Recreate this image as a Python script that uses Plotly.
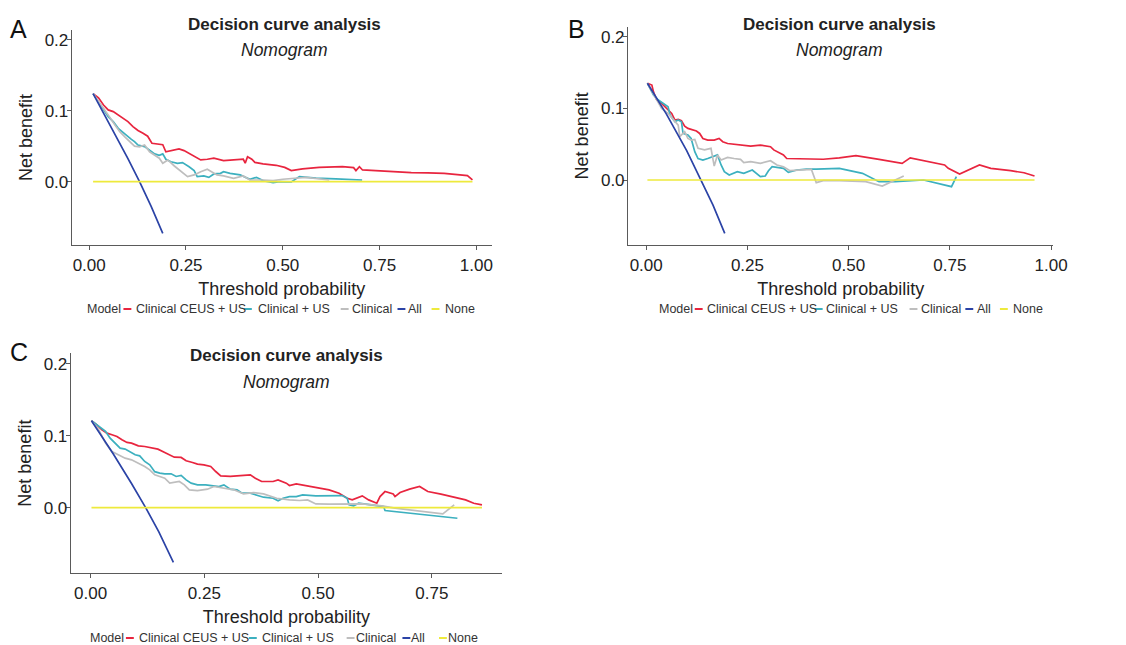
import plotly.graph_objects as go

# ---------------- data ----------------
series_names = ["Clinical CEUS + US", "Clinical + US", "Clinical", "All", "None"]
series_colors = ["#E8253F", "#3CB0BF", "#BEBEBE", "#2B43A6", "#EEEA3C"]

# Panel A
A_red_x = [0.01, 0.024, 0.037, 0.049, 0.062, 0.075, 0.088, 0.100, 0.113, 0.126, 0.139, 0.151, 0.162, 0.177,
           0.190, 0.198, 0.211, 0.232, 0.245, 0.258, 0.275, 0.288, 0.305, 0.322, 0.347, 0.381, 0.398, 0.403,
           0.409, 0.420, 0.428, 0.449, 0.483, 0.505, 0.522, 0.551, 0.594, 0.654, 0.683, 0.689, 0.698, 0.706,
           0.747, 0.790, 0.832, 0.875, 0.917, 0.951, 0.977, 0.99]
A_red_y = [0.124, 0.118, 0.108, 0.101, 0.0986, 0.094, 0.089, 0.0845, 0.0775, 0.072, 0.068, 0.064, 0.054, 0.053,
           0.052, 0.042, 0.0437, 0.046, 0.0437, 0.040, 0.035, 0.0305, 0.0315, 0.033, 0.0296, 0.0305, 0.0315, 0.026,
           0.035, 0.0315, 0.027, 0.025, 0.023, 0.020, 0.0155, 0.018, 0.020, 0.021, 0.0197, 0.0155, 0.021, 0.0164,
           0.015, 0.0136, 0.0127, 0.0122, 0.0117, 0.0099, 0.0085, 0.0023]
A_teal_x = [0.01, 0.032, 0.049, 0.062, 0.075, 0.088, 0.100, 0.109, 0.117, 0.126, 0.143, 0.156, 0.169, 0.181,
            0.190, 0.198, 0.211, 0.228, 0.241, 0.258, 0.271, 0.279, 0.296, 0.309, 0.322, 0.339, 0.347, 0.364,
            0.390, 0.415, 0.432, 0.449, 0.475, 0.492, 0.522, 0.543, 0.586, 0.637, 0.705]
A_teal_y = [0.124, 0.106, 0.0915, 0.0845, 0.075, 0.069, 0.063, 0.0596, 0.0563, 0.0516, 0.0493, 0.0446, 0.039,
            0.037, 0.039, 0.0315, 0.028, 0.0258, 0.0268, 0.021, 0.0155, 0.007, 0.008, 0.006, 0.0108, 0.0117,
            0.014, 0.0117, 0.0094, 0.0033, 0.006, 0.0014, -0.0014, 0.0, -0.0005, 0.007, 0.005, 0.0038, 0.0023]
A_gray_x = [0.01, 0.032, 0.049, 0.066, 0.079, 0.092, 0.105, 0.117, 0.130, 0.143, 0.156, 0.169, 0.181, 0.190,
            0.203, 0.220, 0.237, 0.254, 0.271, 0.288, 0.305, 0.317, 0.330, 0.347, 0.373, 0.398, 0.415, 0.449,
            0.475, 0.500, 0.534, 0.560, 0.620]
A_gray_y = [0.124, 0.108, 0.094, 0.080, 0.0704, 0.063, 0.0563, 0.050, 0.049, 0.0516, 0.042, 0.0376, 0.033,
            0.0258, 0.0305, 0.022, 0.014, 0.007, 0.0094, 0.014, 0.0174, 0.014, 0.0094, 0.008, 0.0047, 0.008,
            0.0023, 0.0023, 0.0014, 0.0033, 0.0047, 0.006, 0.0023]
A_all_x = [0.01, 0.05, 0.10, 0.130, 0.16, 0.19]
A_all_y = [0.124, 0.0835, 0.0325, 0.0, -0.035, -0.073]
A_none_x = [0.01, 0.99]
A_none_y = [0.0, 0.0]

# Panel B
B_red_x = [0.003, 0.014, 0.018, 0.026, 0.038, 0.050, 0.063, 0.071, 0.079, 0.087, 0.095, 0.103, 0.111, 0.124,
           0.132, 0.140, 0.152, 0.168, 0.180, 0.189, 0.201, 0.217, 0.241, 0.258, 0.282, 0.307, 0.315, 0.327,
           0.339, 0.347, 0.380, 0.437, 0.477, 0.518, 0.575, 0.632, 0.652, 0.697, 0.737, 0.746, 0.774, 0.823,
           0.851, 0.900, 0.933, 0.959]
B_red_y = [0.135, 0.1326, 0.123, 0.1116, 0.107, 0.100, 0.093, 0.0837, 0.0847, 0.0828, 0.0753, 0.072, 0.0707,
           0.0684, 0.065, 0.058, 0.0558, 0.0558, 0.058, 0.0535, 0.051, 0.050, 0.0488, 0.0474, 0.0488, 0.0465,
           0.042, 0.038, 0.035, 0.030, 0.030, 0.029, 0.031, 0.034, 0.0288, 0.0233, 0.031, 0.0256, 0.021,
           0.0163, 0.0084, 0.021, 0.0163, 0.013, 0.0102, 0.0056]
B_teal_x = [0.003, 0.018, 0.030, 0.046, 0.054, 0.059, 0.071, 0.079, 0.087, 0.091, 0.103, 0.111, 0.120, 0.128,
            0.140, 0.152, 0.164, 0.176, 0.185, 0.193, 0.205, 0.225, 0.241, 0.262, 0.282, 0.294, 0.302, 0.311,
            0.339, 0.351, 0.372, 0.396, 0.420, 0.477, 0.534, 0.550, 0.575, 0.615, 0.685, 0.754, 0.766]
B_teal_y = [0.135, 0.1186, 0.1116, 0.106, 0.1023, 0.0907, 0.0814, 0.0837, 0.0814, 0.065, 0.0628, 0.058, 0.0395,
            0.030, 0.0279, 0.030, 0.0326, 0.035, 0.021, 0.0116, 0.007, 0.0116, 0.0093, 0.014, 0.0047, 0.0056,
            0.013, 0.0186, 0.0163, 0.0107, 0.014, 0.0153, 0.0153, 0.0163, 0.0093, 0.0047, -0.0023, -0.0023,
            0.0, -0.0093, 0.0047]
B_gray_x = [0.003, 0.022, 0.038, 0.054, 0.067, 0.079, 0.083, 0.095, 0.103, 0.111, 0.120, 0.128, 0.144, 0.160,
            0.168, 0.176, 0.185, 0.201, 0.217, 0.233, 0.241, 0.258, 0.282, 0.307, 0.323, 0.339, 0.355, 0.388,
            0.408, 0.420, 0.437, 0.477, 0.542, 0.583, 0.607, 0.636]
B_gray_y = [0.135, 0.1163, 0.100, 0.093, 0.0837, 0.0767, 0.0605, 0.0674, 0.058, 0.0558, 0.0567, 0.0442, 0.042,
            0.0442, 0.0195, 0.035, 0.0279, 0.0316, 0.030, 0.0288, 0.0242, 0.0256, 0.0233, 0.027, 0.021, 0.0186,
            0.013, 0.014, 0.0149, -0.0037, -0.0009, -0.0009, -0.0023, -0.0084, -0.0023, 0.0056]
B_all_x = [0.003, 0.05, 0.10, 0.136, 0.165, 0.194]
B_all_y = [0.135, 0.092, 0.041, 0.0, -0.035, -0.0744]
B_none_x = [0.003, 0.959]
B_none_y = [0.0, 0.0]

# Panel C
C_red_x = [0.002, 0.014, 0.025, 0.036, 0.047, 0.058, 0.069, 0.080, 0.090, 0.105, 0.119, 0.134, 0.148, 0.163,
           0.174, 0.184, 0.199, 0.210, 0.224, 0.235, 0.249, 0.264, 0.275, 0.286, 0.307, 0.329, 0.351, 0.362,
           0.376, 0.401, 0.412, 0.430, 0.437, 0.452, 0.481, 0.524, 0.546, 0.564, 0.575, 0.597, 0.611, 0.629,
           0.636, 0.647, 0.665, 0.669, 0.680, 0.701, 0.723, 0.741, 0.770, 0.799, 0.824, 0.842, 0.860]
C_red_y = [0.121, 0.1153, 0.1084, 0.1037, 0.1014, 0.099, 0.0944, 0.0907, 0.0898, 0.086, 0.085, 0.0828, 0.0814,
           0.0767, 0.0735, 0.0702, 0.0698, 0.0651, 0.0628, 0.0605, 0.0595, 0.0572, 0.0502, 0.0442, 0.0433,
           0.0442, 0.0456, 0.0409, 0.0363, 0.0363, 0.0386, 0.034, 0.0307, 0.033, 0.0293, 0.0247, 0.020, 0.013,
           0.0107, 0.0163, 0.0107, 0.006, 0.0153, 0.0223, 0.019, 0.0153, 0.0209, 0.0256, 0.0293, 0.0223,
           0.0186, 0.0144, 0.0107, 0.006, 0.0037]
C_teal_x = [0.002, 0.018, 0.033, 0.043, 0.054, 0.065, 0.076, 0.087, 0.098, 0.108, 0.119, 0.130, 0.141, 0.152,
            0.163, 0.177, 0.188, 0.199, 0.210, 0.221, 0.235, 0.253, 0.271, 0.282, 0.293, 0.307, 0.322, 0.333,
            0.351, 0.365, 0.380, 0.401, 0.412, 0.423, 0.437, 0.452, 0.466, 0.495, 0.524, 0.553, 0.564, 0.568,
            0.578, 0.589, 0.644, 0.647, 0.806]
C_teal_y = [0.121, 0.113, 0.106, 0.0967, 0.0898, 0.0828, 0.0814, 0.078, 0.0735, 0.072, 0.0642, 0.0595, 0.050,
            0.048, 0.047, 0.047, 0.0433, 0.0447, 0.0386, 0.034, 0.0316, 0.0316, 0.0302, 0.0293, 0.0316, 0.0256,
            0.0247, 0.020, 0.020, 0.0177, 0.0144, 0.013, 0.0093, 0.013, 0.0153, 0.0153, 0.0177, 0.0163, 0.0163,
            0.0167, 0.013, 0.0037, 0.0023, 0.006, 0.0014, -0.0042, -0.0149]
C_gray_x = [0.002, 0.018, 0.033, 0.047, 0.061, 0.076, 0.090, 0.105, 0.119, 0.130, 0.141, 0.152, 0.163, 0.174,
            0.184, 0.195, 0.206, 0.217, 0.235, 0.257, 0.271, 0.293, 0.315, 0.336, 0.358, 0.380, 0.409, 0.437,
            0.459, 0.477, 0.495, 0.524, 0.560, 0.597, 0.640, 0.669, 0.774, 0.799]
C_gray_y = [0.121, 0.1084, 0.0898, 0.078, 0.0735, 0.0688, 0.0665, 0.0619, 0.0572, 0.0526, 0.0456, 0.0433,
            0.0409, 0.034, 0.0349, 0.0363, 0.0316, 0.0247, 0.0237, 0.0256, 0.0293, 0.027, 0.0247, 0.0191, 0.0209,
            0.0191, 0.013, 0.0107, 0.0098, 0.0107, 0.0051, 0.0047, 0.0051, 0.0051, 0.0023, -0.0009, -0.0088,
            0.0037]
C_all_x = [0.002, 0.05, 0.09, 0.121, 0.15, 0.182]
C_all_y = [0.121, 0.0745, 0.0335, 0.0, -0.034, -0.0763]
C_none_x = [0.002, 0.86]
C_none_y = [0.0, 0.0]

x_tick_vals = [0.0, 0.25, 0.5, 0.75, 1.0]
x_tick_text = ["0.00", "0.25", "0.50", "0.75", "1.00"]
y_tick_vals = [0.0, 0.1, 0.2]
y_tick_text = ["0.0", "0.1", "0.2"]

title_text = "Decision curve analysis"
subtitle_text = "Nomogram"
x_title = "Threshold probability"
y_title = "Net benefit"
legend_title = "Model"

# ---------------- layout geometry (pixels) ----------------
W, H = 1126, 645
FONT = "Liberation Sans, Arial, Helvetica, sans-serif"

panels = [
    dict(letter="A", box=(72.7, 498.0, 30.0, 245.0), xr=[-0.045, 1.04], yr=[-0.0893, 0.2136], nx=5,
         series=[(A_red_x, A_red_y), (A_teal_x, A_teal_y), (A_gray_x, A_gray_y), (A_all_x, A_all_y),
                 (A_none_x, A_none_y)],
         letter_xy=(19, 29), title_xy=(288, 24), sub_xy=(288, 50),
         leg_y=309, leg_model_x=87, leg_keys=[129, 251, 349, 406.5, 441], leg_labels=[137, 260, 355, 412, 450]),
    dict(letter="B", box=(636.0, 1066.7, 26.7, 245.0), xr=[-0.0447, 1.0057], yr=[-0.0907, 0.214], nx=5,
         series=[(B_red_x, B_red_y), (B_teal_x, B_teal_y), (B_gray_x, B_gray_y), (B_all_x, B_all_y),
                 (B_none_x, B_none_y)],
         letter_xy=(584, 29), title_xy=(850, 24), sub_xy=(850, 50),
         leg_y=309, leg_model_x=666, leg_keys=[707.5, 829, 925, 981.5, 1016.5],
         leg_labels=[715, 835, 932, 988, 1025]),
    dict(letter="C", box=(71.7, 508.3, 353.0, 573.3), xr=[-0.0434, 0.904], yr=[-0.0916, 0.2153], nx=4,
         series=[(C_red_x, C_red_y), (C_teal_x, C_teal_y), (C_gray_x, C_gray_y), (C_all_x, C_all_y),
                 (C_none_x, C_none_y)],
         letter_xy=(19, 352), title_xy=(290, 355), sub_xy=(290, 382),
         leg_y=638, leg_model_x=90, leg_keys=[131.5, 256, 355, 411.5, 448.5], leg_labels=[140, 264, 359, 415, 453]),
]

fig = go.Figure()
annotations = []
shapes = []


def px_x(v):
    return v / W


def px_y(v):
    return 1 - v / H


for i, p in enumerate(panels):
    k = "" if i == 0 else str(i + 1)
    x0, x1, y0, y1 = p["box"]
    for (xs, ys), nm, col in zip(p["series"], series_names, series_colors):
        fig.add_trace(go.Scatter(x=xs, y=ys, mode="lines", name=nm, showlegend=False,
                                 line=dict(color=col, width=1.7),
                                 xaxis="x" + k, yaxis="y" + k))
    axis_common = dict(showline=True, linecolor="#5a5a5a", linewidth=1.2, showgrid=False, zeroline=False,
                       ticks="outside", ticklen=4, tickcolor="#5a5a5a", tickwidth=1.2,
                       tickfont=dict(family=FONT, size=17, color="#222222"))
    fig.update_layout(**{
        "xaxis" + k: dict(domain=[px_x(x0), px_x(x1)], range=p["xr"], anchor="y" + k,
                          tickvals=x_tick_vals[:p["nx"]], ticktext=x_tick_text[:p["nx"]],
                          title=dict(text=x_title, font=dict(family=FONT, size=18, color="#222222"),
                                     standoff=8),
                          **axis_common),
        "yaxis" + k: dict(domain=[px_y(y1), px_y(y0)], range=p["yr"], anchor="x" + k,
                          tickvals=y_tick_vals, ticktext=y_tick_text, ticklabelstandoff=-5,
                          title=dict(text=y_title, font=dict(family=FONT, size=18, color="#222222"),
                                     standoff=7),
                          **axis_common),
    })
    leg_font = dict(family=FONT, size=12.5, color="#333333")
    annotations += [
        dict(text=p["letter"], x=px_x(p["letter_xy"][0]), y=px_y(p["letter_xy"][1]), xref="paper", yref="paper",
             showarrow=False, xanchor="center", yanchor="middle",
             font=dict(family=FONT, size=25, color="#111111")),
        dict(text="<b>" + title_text + "</b>", x=px_x(p["title_xy"][0]), y=px_y(p["title_xy"][1]),
             xref="paper", yref="paper", showarrow=False, xanchor="center", yanchor="middle",
             font=dict(family=FONT, size=17, color="#222222")),
        dict(text="<i>" + subtitle_text + "</i>", x=px_x(p["sub_xy"][0]), y=px_y(p["sub_xy"][1]),
             xref="paper", yref="paper", showarrow=False, xanchor="center", yanchor="middle",
             font=dict(family=FONT, size=17.5, color="#222222")),
        dict(text=legend_title, x=px_x(p["leg_model_x"]), y=px_y(p["leg_y"]), xref="paper", yref="paper",
             showarrow=False, xanchor="left", yanchor="middle", font=leg_font, borderpad=0),
    ]
    for kx, lx, nm, col in zip(p["leg_keys"], p["leg_labels"], series_names, series_colors):
        shapes.append(dict(type="line", xref="paper", yref="paper",
                           x0=px_x(kx - 4), x1=px_x(kx + 4), y0=px_y(p["leg_y"]), y1=px_y(p["leg_y"]),
                           line=dict(color=col, width=2)))
        annotations.append(dict(text=nm, x=px_x(lx), y=px_y(p["leg_y"]), xref="paper", yref="paper",
                                showarrow=False, xanchor="left", yanchor="middle", font=leg_font, borderpad=0))

fig.update_layout(width=W, height=H, autosize=False, margin=dict(l=0, r=0, t=0, b=0),
                  paper_bgcolor="white", plot_bgcolor="white", showlegend=False,
                  annotations=annotations, shapes=shapes)

fig.write_html("out.html")
